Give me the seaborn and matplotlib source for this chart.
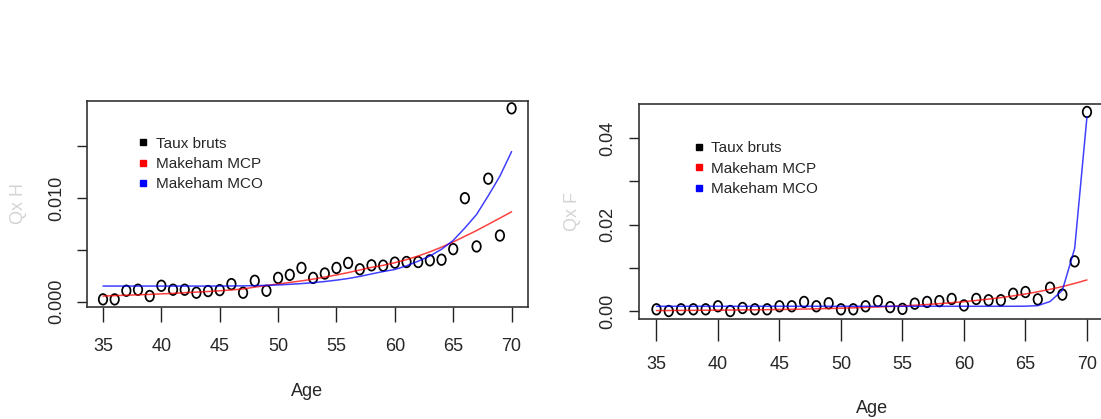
import numpy as np
import pandas as pd
import matplotlib
matplotlib.use("Agg")
import matplotlib.pyplot as plt
from matplotlib.lines import Line2D
from matplotlib.path import Path
from matplotlib.transforms import Affine2D
import seaborn as sns

# ages
ages = list(range(35, 71))

# men (left panel)
taux_h = [0.00022, 0.00022, 0.00105, 0.00115, 0.00054, 0.00153, 0.00115, 0.00115, 0.00086, 0.00102,
          0.00111, 0.00169, 0.00086, 0.00201, 0.00105, 0.00229, 0.00258, 0.00325, 0.00229, 0.00271,
          0.00325, 0.00373, 0.00312, 0.00350, 0.00347, 0.00376, 0.00382, 0.00382, 0.00398, 0.00404,
          0.00506, 0.00997, 0.00532, 0.01185, 0.00637, 0.01863]
mcp_h = [0.00054, 0.00058, 0.00062, 0.00066, 0.00070, 0.00075, 0.00080, 0.00086, 0.00092, 0.00098,
         0.00105, 0.00113, 0.00122, 0.00140, 0.00155, 0.00170, 0.00185, 0.00200, 0.00217, 0.00237,
         0.00257, 0.00280, 0.00305, 0.00330, 0.00350, 0.00375, 0.00405, 0.00440, 0.00480, 0.00525,
         0.00575, 0.00630, 0.00685, 0.00745, 0.00805, 0.00866]
mco_h = [0.00150, 0.00150, 0.00150, 0.00150, 0.00150, 0.00150, 0.00150, 0.00150, 0.00150, 0.00150,
         0.00150, 0.00151, 0.00152, 0.00154, 0.00157, 0.00161, 0.00167, 0.00174, 0.00183, 0.00194,
         0.00207, 0.00223, 0.00243, 0.00267, 0.00290, 0.00310, 0.00345, 0.00390, 0.00440, 0.00505,
         0.00590, 0.00710, 0.00840, 0.01020, 0.01210, 0.01446]

# women (right panel)
taux_f = [0.0004, 0.0000, 0.0004, 0.0004, 0.0004, 0.0011, 0.0000, 0.0007, 0.0004, 0.0004,
          0.0011, 0.0011, 0.0021, 0.0011, 0.0018, 0.0004, 0.0004, 0.0011, 0.0023, 0.0009,
          0.0005, 0.0017, 0.0021, 0.0023, 0.0028, 0.0013, 0.0028, 0.0025, 0.0025, 0.0040,
          0.0044, 0.0027, 0.0054, 0.0038, 0.0115, 0.0461]
mcp_f = [0.00011, 0.00012, 0.00014, 0.00016, 0.00018, 0.00020, 0.00022, 0.00025, 0.00028, 0.00032,
         0.00036, 0.00040, 0.00046, 0.00051, 0.00058, 0.00065, 0.00074, 0.00083, 0.00094, 0.00106,
         0.00119, 0.00134, 0.00151, 0.00171, 0.00192, 0.00217, 0.00245, 0.00276, 0.00311, 0.00351,
         0.00395, 0.00446, 0.00502, 0.00566, 0.00639, 0.00720]
mco_f = [0.00110] * 30 + [0.00112, 0.00125, 0.00220, 0.00480, 0.01450, 0.04500]

labels = ['Taux bruts', 'Makeham MCP', 'Makeham MCO']

fig = plt.figure(figsize=(11.01, 4.19), dpi=100)
sns.set_style("white")
plt.rcParams['font.family'] = ['Liberation Sans Narrow', 'DejaVu Sans Condensed', 'Liberation Sans', 'DejaVu Sans']

ax1 = fig.add_axes([0.0787, 0.2673, 0.4008, 0.4924])
ax2 = fig.add_axes([0.5806, 0.2387, 0.4223, 0.5131])

# slightly tall open circle, like the reference
oval = Path.unit_circle().transformed(Affine2D().scale(0.8, 1.0))


def panel(ax, taux, mcp, mco, ylab, yticks, ylabels, leg_pos, xlen, xpad, ypad, ylpad, xlpad):
    df = pd.DataFrame({'Age': ages, 'taux': taux, 'mcp': mcp, 'mco': mco})
    sns.lineplot(data=df, x='Age', y='mcp', ax=ax, color='red', lw=1.1, alpha=0.75)
    sns.lineplot(data=df, x='Age', y='mco', ax=ax, color='blue', lw=1.1, alpha=0.75)
    sns.scatterplot(data=df, x='Age', y='taux', ax=ax, marker=oval, s=58,
                    facecolors='none', edgecolor='black', linewidth=1.25)
    ymax = max(max(taux), max(mco))
    ymin = min(taux)
    pad = (ymax - ymin) * 0.04
    ax.set_xlim(35 - 1.4, 70 + 1.4)
    ax.set_ylim(ymin - pad, ymax + pad)
    ax.set_xticks(range(35, 71, 5))
    ax.set_yticks(yticks)
    ax.set_yticklabels(ylabels, rotation=90, va='center')
    ax.tick_params(axis='x', direction='out', length=xlen, width=1, labelsize=13,
                   color='#222222', bottom=True, pad=xpad)
    ax.tick_params(axis='y', direction='out', length=7.5, width=1, labelsize=13,
                   color='#222222', left=True, pad=ypad)
    for sp in ax.spines.values():
        sp.set_color('#333333')
        sp.set_linewidth(1.2)
    ax.set_xlabel('Age', fontsize=13, labelpad=xlpad)
    ax.set_ylabel(ylab, fontsize=13, color='#d4d4d4', labelpad=ylpad)
    handles = [Line2D([], [], marker='s', color=c, linestyle='None', markersize=5)
               for c in ['black', 'red', 'blue']]
    ax.legend(handles, labels, loc='upper left', bbox_to_anchor=leg_pos, frameon=False,
              fontsize=11, handlelength=0.6, handletextpad=0.5, labelspacing=0.42,
              borderpad=0, borderaxespad=0)


panel(ax1, taux_h, mcp_h, mco_h, 'Qx H', [0, 0.005, 0.010, 0.015],
      ['0.000', '', '0.010', ''], (0.118, 0.826), 11, 11.5, 8, 15.5, 20)
panel(ax2, taux_f, mcp_f, mco_f, 'Qx F', [0, 0.01, 0.02, 0.03, 0.04],
      ['0.00', '', '0.02', '', '0.04'], (0.119, 0.826), 16, 11, 9, 13, 19)

fig.savefig('out.png', dpi=100, facecolor='white')
